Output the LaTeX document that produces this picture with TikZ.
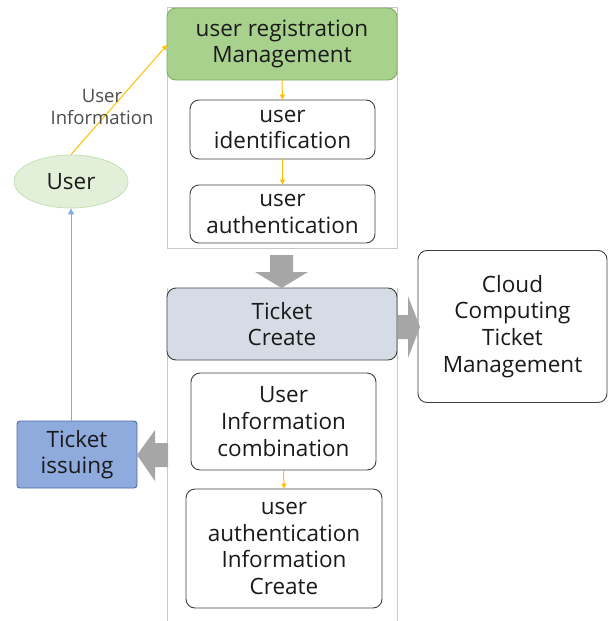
\documentclass[tikz,border=0pt]{standalone}
\usepackage{fontspec}
\setmainfont{Open Sans}
\usetikzlibrary{shapes.geometric,arrows.meta}
\definecolor{txt}{HTML}{1A1A1A}
\definecolor{greenfill}{HTML}{A9D18E}
\definecolor{greendraw}{HTML}{7FAF5F}
\definecolor{tcfill}{HTML}{D6DCE5}
\definecolor{issuefill}{HTML}{8FAADC}
\definecolor{issuedraw}{HTML}{4A6EAA}
\definecolor{userfill}{HTML}{E2EFD9}
\definecolor{userdraw}{HTML}{C5E0B4}
\definecolor{yel}{HTML}{FFC000}
\definecolor{bluel}{HTML}{7FAEDC}
\definecolor{fatgray}{HTML}{A6A6A6}
\definecolor{cont}{HTML}{C8C8C8}
\begin{document}
\begin{tikzpicture}[x=1pt,y=-1pt,
  box/.style={draw=black!75, line width=0.9pt, fill=white, rounded corners=9pt,
    align=center, text=txt, inner sep=0pt, font=\fontsize{22.5}{26.7}\selectfont},
  ya/.style={draw=yel, line width=1pt, -{Triangle[length=5pt,width=5pt]}},
  fat/.style={fill=fatgray, draw=none},
  container/.style={draw=cont, line width=0.8pt}]
\useasboundingbox (0,0) rectangle (608,621);
% containers
\draw[container] (167,7) rectangle (397,248);
\draw[container] (167,288) -- (167,625);
\draw[container] (397,288) -- (397,625);
% nodes
\node[box, fill=greenfill, draw=greendraw, minimum width=230pt, minimum height=72pt] (reg) at (282,44) {user registration\\Management};
\node[box, minimum width=185pt, minimum height=59pt] (ident) at (282.5,129.5) {user\\identification};
\node[box, minimum width=185pt, minimum height=58pt] (auth) at (282.5,214) {user\\authentication};
\node[box, fill=tcfill, minimum width=230pt, minimum height=72pt] (tc) at (282,324) {Ticket\\Create};
\node[box, minimum width=189pt, minimum height=152pt] (cloud) at (512.5,326.5) {Cloud\\Computing\\Ticket\\Management};
\node[box, minimum width=185pt, minimum height=97pt] (combo) at (283.5,421.5) {User\\Information\\combination};
\node[box, minimum width=196pt, minimum height=119pt] (aic) at (284,548.5) {user\\authentication\\Information\\Create};
\node[box, fill=issuefill, draw=issuedraw, rounded corners=3pt, minimum width=120pt, minimum height=67pt] (issue) at (77,454.5) {Ticket\\issuing};
\node[ellipse, draw=userdraw, fill=userfill, line width=0.8pt, minimum width=114pt, minimum height=53pt, inner sep=0pt, text=txt, font=\fontsize{22.5}{26.7}\selectfont] (user) at (71,181.5) {User};
% small arrows
\draw[ya] (reg.south) -- (ident.north);
\draw[ya] (ident.south) -- (auth.north);
\draw[ya] (combo.south) -- (aic.north);
\coordinate (regin) at (167,45);
\draw[ya] (user.north) -- (regin);
\node[align=center, text=black!70, font=\fontsize{18.5}{22}\selectfont] (lbl) at (102,107) {User\\Information};
\draw[draw=bluel, line width=0.8pt, -{Triangle[length=6pt,width=6pt]}] (issue.north -| user.south) -- (user.south);
% fat arrows
\fill[fatgray] (270,255) -- (293,255) -- (293,272) -- (308,272) -- (281.5,288) -- (255,272) -- (270,272) -- cycle;
\fill[fatgray] (398,315) -- (408,315) -- (408,296) -- (420,327) -- (408,358) -- (408,339) -- (398,339) -- cycle;
\fill[fatgray] (168,443) -- (155,443) -- (155,430) -- (137,455) -- (155,481) -- (155,467) -- (168,467) -- cycle;
\end{tikzpicture}
\end{document}
